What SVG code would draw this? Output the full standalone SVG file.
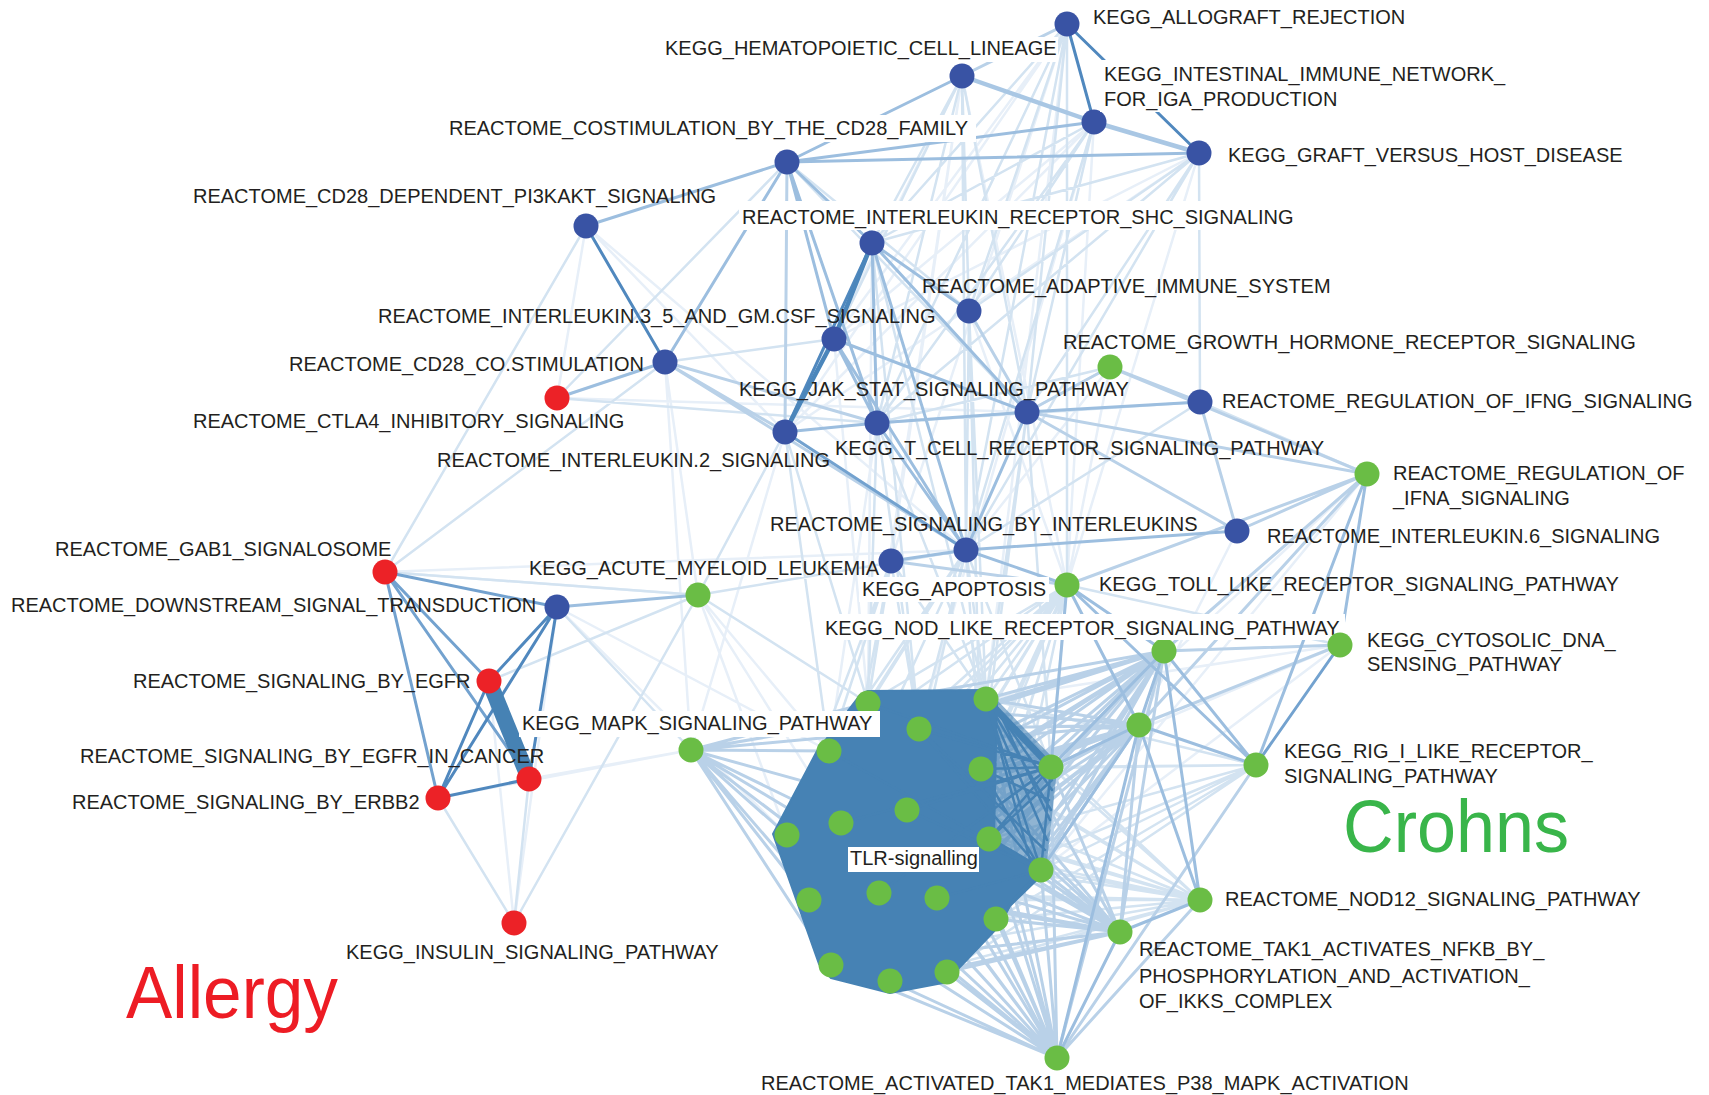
<svg xmlns="http://www.w3.org/2000/svg" width="1709" height="1095" viewBox="0 0 1709 1095">
<style>
.e{fill:none;stroke-linecap:round}
.e0{stroke:#e7eff8;stroke-width:2.5}
.e1{stroke:#d3e3f1;stroke-width:2.5}
.e2{stroke:#b9d1e8;stroke-width:3}
.e3{stroke:#9cbedf;stroke-width:3}
.e3w{stroke:#a9c7e4;stroke-width:4.5}
.e4{stroke:#73a2cf;stroke-width:3}
.e5{stroke:#5088be;stroke-width:3}
.e5w{stroke:#4b86bb;stroke-width:4.5}
.w{stroke:#4682b4;stroke-width:2.5}
.b{fill:#3953a4}
.r{fill:#ec2227}
.g{fill:#6abd45}
.l{font-family:"Liberation Sans",Arial,Helvetica,sans-serif;font-size:20px;fill:#231f20}
.bx{fill:#ffffff}
.big{font-family:"Liberation Sans",Arial,Helvetica,sans-serif;font-size:75px}
</style>
<rect width="1709" height="1095" fill="#ffffff"/>
<g id="connectors">
<path class="e e0" d="M1067 24L785 432M1067 24L891 561M1067 24L834 339M962 76L785 432M962 76L891 561M1094 122L785 432M1094 122L834 339M1199 153L834 339M1199 153L785 432M586 226L785 432M586 226L557 398M557 398L1027 412M514 923L489 681M514 923L557 607M529 779L691 750M698 595L787 835M698 595L829 751M698 595L841 823M385 572L966 550M557 607L829 751M557 607L787 835M785 432L691 750M665 362L691 750M1340 645L986 699M1340 645L1051 767M1340 645L1041 870M1367 474L1051 767M1367 474L1041 870M1237 531L1139 725M969 311L1067 585M1110 367L1067 585M1110 367L966 550M1199 153L1067 585M1094 122L1067 585M962 76L1067 585M586 226L966 550M665 362L698 595M438 798L691 750M385 572L698 595M962 76L868 703M1067 24L986 699M1094 122L919 729M877 423L829 751M834 339L868 703M872 243L868 703"/>
<path class="e e1" d="M1067 24L872 243M1067 24L969 311M1067 24L877 423M1067 24L1027 412M1067 24L966 550M1067 24L1067 585M962 76L872 243M962 76L969 311M962 76L877 423M962 76L1027 412M962 76L966 550M962 76L834 339M1094 122L872 243M1094 122L969 311M1094 122L877 423M1094 122L1027 412M1094 122L966 550M1199 153L872 243M1199 153L969 311M1199 153L877 423M1199 153L1027 412M1199 153L966 550M1199 153L1200 402M787 162L969 311M787 162L1027 412M586 226L385 572M557 398L787 162M557 398L877 423M385 572L698 595M385 572L665 362M834 339L665 362M969 311L966 550M1110 367L877 423M1110 367L1027 412M1200 402L966 550M1200 402L877 423M1200 402L1367 474M514 923L438 798M514 923L529 779M514 923L698 595M489 681L698 595M557 607L691 750M698 595L868 703M698 595L966 550M1340 645L1067 585M877 423L868 703M877 423L986 699M877 423L919 729M1027 412L986 699M1027 412L981 769M1027 412L1051 767M872 243L986 699M872 243L919 729M969 311L986 699M969 311L981 769M785 432L868 703M785 432L829 751M785 432L698 595"/>
<path class="e e1" d="M1200 900L868 703M1200 900L986 699M1200 900L919 729M1200 900L829 751M1200 900L981 769M1200 900L1051 767M1200 900L907 810M1200 900L841 823M1200 900L787 835M1200 900L989 839M1200 900L1041 870M1200 900L879 893M1200 900L937 898M1200 900L809 900M1200 900L996 919M1200 900L831 965M1200 900L890 981M1200 900L947 972"/>
<path class="e e1" d="M1067 585L868 703M1067 585L986 699M1067 585L919 729M1067 585L829 751M1067 585L981 769M1067 585L907 810M1067 585L841 823M1067 585L787 835M1067 585L989 839M1067 585L1041 870M1067 585L879 893M1067 585L937 898M1067 585L809 900M1067 585L996 919M1067 585L831 965M1067 585L890 981M1067 585L947 972"/>
<path class="e e1" d="M966 550L868 703M966 550L986 699M966 550L919 729M966 550L829 751M966 550L981 769M966 550L1051 767M966 550L907 810M966 550L841 823M966 550L787 835M891 561L868 703M891 561L986 699M891 561L919 729M891 561L829 751M891 561L841 823M891 561L787 835M1256 765L986 699M1256 765L981 769M1256 765L1051 767M1256 765L989 839M1256 765L1041 870M1256 765L996 919M1256 765L937 898M1256 765L947 972"/>
<path class="e e2" d="M691 750L868 703M691 750L919 729M691 750L829 751M691 750L841 823M691 750L787 835M691 750L809 900M691 750L831 965M691 750L890 981M691 750L907 810M691 750L879 893M691 750L986 699M691 750L937 898"/>
<path class="e e2" d="M1057 1058L868 703M1057 1058L986 699M1057 1058L919 729M1057 1058L829 751M1057 1058L981 769M1057 1058L1051 767M1057 1058L907 810M1057 1058L841 823M1057 1058L787 835M1057 1058L989 839M1057 1058L1041 870M1057 1058L879 893M1057 1058L937 898M1057 1058L809 900M1057 1058L996 919M1057 1058L831 965M1057 1058L890 981M1057 1058L947 972"/>
<path class="e e2" d="M1120 932L868 703M1120 932L986 699M1120 932L919 729M1120 932L829 751M1120 932L981 769M1120 932L1051 767M1120 932L907 810M1120 932L841 823M1120 932L787 835M1120 932L989 839M1120 932L1041 870M1120 932L879 893M1120 932L937 898M1120 932L809 900M1120 932L996 919M1120 932L831 965M1120 932L890 981M1120 932L947 972"/>
<path class="e e2" d="M1139 725L868 703M1139 725L986 699M1139 725L919 729M1139 725L829 751M1139 725L981 769M1139 725L1051 767M1139 725L907 810M1139 725L841 823M1139 725L787 835M1139 725L989 839M1139 725L1041 870M1139 725L879 893M1139 725L937 898M1139 725L809 900M1139 725L996 919M1139 725L831 965M1139 725L890 981M1139 725L947 972"/>
<path class="e e2" d="M1164 651L868 703M1164 651L986 699M1164 651L919 729M1164 651L829 751M1164 651L981 769M1164 651L1051 767M1164 651L907 810M1164 651L841 823M1164 651L787 835M1164 651L989 839M1164 651L1041 870M1164 651L879 893M1164 651L937 898M1164 651L809 900M1164 651L996 919M1164 651L831 965M1164 651L890 981M1164 651L947 972"/>
<path class="e e2" d="M1067 24L962 76M787 162L785 432M1027 412L1110 367M1027 412L1367 474M1027 412L1237 531M969 311L1027 412M1110 367L1200 402M1110 367L1367 474M1200 402L1237 531M1237 531L1367 474M1367 474L1164 651M1367 474L1067 585M1367 474L1139 725M1340 645L1164 651M1340 645L1139 725M1256 765L1057 1058M1164 651L1120 932M1164 651L1057 1058M1067 585L891 561M1139 725L1120 932M1200 900L1057 1058M665 362L877 423M665 362L785 432M665 362L966 550"/>
<path class="e e3" d="M962 76L787 162M787 162L1094 122M787 162L1199 153M787 162L586 226M787 162L665 362M787 162L834 339M787 162L877 423M787 162L872 243M557 398L665 362M557 607L698 595M834 339L877 423M834 339L1027 412M834 339L966 550M872 243L969 311M872 243L877 423M872 243L1027 412M872 243L966 550M785 432L877 423M877 423L1027 412M877 423L966 550M1027 412L966 550M1027 412L1200 402M966 550L891 561M966 550L1237 531M966 550L1067 585M1367 474L1340 645M1367 474L1256 765M1256 765L1164 651M1256 765L1139 725M1256 765L1067 585M1164 651L1139 725M1164 651L1067 585M1164 651L1200 900M1067 585L1139 725M1067 585L1051 767M1139 725L1200 900M1200 900L1120 932M1120 932L1057 1058M1057 1058L1139 725M1139 725L1051 767M1139 725L1041 870M1164 651L1051 767"/>
<path class="e e3w" d="M962 76L1094 122M1094 122L1199 153"/>
<path class="e e4" d="M385 572L557 607M385 572L489 681M385 572L529 779M385 572L438 798M1340 645L1256 765M785 432L966 550"/>
<path class="e e5" d="M1067 24L1094 122M1067 24L1199 153M586 226L665 362M557 607L489 681M557 607L529 779M557 607L438 798M489 681L438 798M438 798L529 779M872 243L785 432"/>
<path class="e e5w" d="M834 339L872 243M834 339L785 432"/>
<path d="M489 681L529 779" fill="none" stroke="#4682b4" stroke-width="16"/>
<polygon points="986,690 997,700 1053,758 1057,770 1046,871 1030,861 994,840" fill="#4682b4" fill-opacity="0.6"/>
<polygon points="860,695 868,691 986,690 997,700 994,840 1030,861 1046,871 1010,906 1000,925 960,967 948,982 890,993 831,978 819,964 773,834 817,751" fill="#4682b4" stroke="#4682b4" stroke-width="2" stroke-linejoin="round"/>
<path class="e w" d="M986 699L1041 870M981 769L1051 767M981 769L1041 870M989 839L1051 767M989 839L1041 870M919 729L1051 767M919 729L1041 870M907 810L1051 767M907 810L1041 870M868 703L1051 767M841 823L1051 767M829 751L1041 870M879 893L1051 767M937 898L1041 870M996 919L1041 870M986 699L1051 810M1051 767L1041 870M986 699L1047 840M990 700L1052 790M986 699L1030 860M981 769L1049 800M989 839L1052 780M919 729L1045 850M996 705L1050 820"/>
<path d="M986 699L1051 767" fill="none" stroke="#4682b4" stroke-width="7"/>
</g>
<g id="cluster-nodes">
<circle class="g" cx="868" cy="703" r="12.5"/>
<circle class="g" cx="986" cy="699" r="12.5"/>
<circle class="g" cx="919" cy="729" r="12.5"/>
<circle class="g" cx="829" cy="751" r="12.5"/>
<circle class="g" cx="981" cy="769" r="12.5"/>
<circle class="g" cx="1051" cy="767" r="12.5"/>
<circle class="g" cx="907" cy="810" r="12.5"/>
<circle class="g" cx="841" cy="823" r="12.5"/>
<circle class="g" cx="787" cy="835" r="12.5"/>
<circle class="g" cx="989" cy="839" r="12.5"/>
<circle class="g" cx="1041" cy="870" r="12.5"/>
<circle class="g" cx="879" cy="893" r="12.5"/>
<circle class="g" cx="937" cy="898" r="12.5"/>
<circle class="g" cx="809" cy="900" r="12.5"/>
<circle class="g" cx="996" cy="919" r="12.5"/>
<circle class="g" cx="831" cy="965" r="12.5"/>
<circle class="g" cx="890" cy="981" r="12.5"/>
<circle class="g" cx="947" cy="972" r="12.5"/>
<circle class="g" cx="1139" cy="725" r="12.5"/>
</g>
<g id="n-allograft"><circle class="b" cx="1067" cy="24" r="12.5"/><text class="l" x="1093" y="24">KEGG_ALLOGRAFT_REJECTION</text></g>
<g id="n-hematopoietic"><circle class="b" cx="962" cy="76" r="12.5"/><rect class="bx" x="662" y="37" width="396" height="25"/><text class="l" x="665" y="55">KEGG_HEMATOPOIETIC_CELL_LINEAGE</text></g>
<g id="n-intestinal"><circle class="b" cx="1094" cy="122" r="12.5"/><rect class="bx" x="1100" y="60" width="408" height="52"/><text class="l" x="1104" y="81">KEGG_INTESTINAL_IMMUNE_NETWORK_</text><text class="l" x="1104" y="106">FOR_IGA_PRODUCTION</text></g>
<g id="n-gvhd"><circle class="b" cx="1199" cy="153" r="12.5"/><text class="l" x="1228" y="162">KEGG_GRAFT_VERSUS_HOST_DISEASE</text></g>
<g id="n-costim"><circle class="b" cx="787" cy="162" r="12.5"/><rect class="bx" x="446" y="115" width="530" height="27"/><text class="l" x="449" y="135">REACTOME_COSTIMULATION_BY_THE_CD28_FAMILY</text></g>
<g id="n-pi3k"><circle class="b" cx="586" cy="226" r="12.5"/><text class="l" x="193" y="203">REACTOME_CD28_DEPENDENT_PI3KAKT_SIGNALING</text></g>
<g id="n-shc"><circle class="b" cx="872" cy="243" r="12.5"/><rect class="bx" x="739" y="201" width="556" height="29"/><text class="l" x="742" y="224">REACTOME_INTERLEUKIN_RECEPTOR_SHC_SIGNALING</text></g>
<g id="n-adaptive"><circle class="b" cx="969" cy="311" r="12.5"/><text class="l" x="922" y="293">REACTOME_ADAPTIVE_IMMUNE_SYSTEM</text></g>
<g id="n-il35"><circle class="b" cx="834" cy="339" r="12.5"/><text class="l" x="378" y="323">REACTOME_INTERLEUKIN.3_5_AND_GM.CSF_SIGNALING</text></g>
<g id="n-cd28co"><circle class="b" cx="665" cy="362" r="12.5"/><text class="l" x="289" y="371">REACTOME_CD28_CO.STIMULATION</text></g>
<g id="n-ctla4"><circle class="r" cx="557" cy="398" r="12.5"/><text class="l" x="193" y="428">REACTOME_CTLA4_INHIBITORY_SIGNALING</text></g>
<g id="n-il2"><circle class="b" cx="785" cy="432" r="12.5"/><text class="l" x="437" y="467">REACTOME_INTERLEUKIN.2_SIGNALING</text></g>
<g id="n-jakstat"><circle class="b" cx="1027" cy="412" r="12.5"/><text class="l" x="739" y="396">KEGG_JAK_STAT_SIGNALING_PATHWAY</text></g>
<g id="n-tcell"><circle class="b" cx="877" cy="423" r="12.5"/><text class="l" x="835" y="455">KEGG_T_CELL_RECEPTOR_SIGNALING_PATHWAY</text></g>
<g id="n-growth"><circle class="g" cx="1110" cy="367" r="12.5"/><text class="l" x="1063" y="349">REACTOME_GROWTH_HORMONE_RECEPTOR_SIGNALING</text></g>
<g id="n-ifng"><circle class="b" cx="1200" cy="402" r="12.5"/><text class="l" x="1222" y="408">REACTOME_REGULATION_OF_IFNG_SIGNALING</text></g>
<g id="n-ifna"><circle class="g" cx="1367" cy="474" r="12.5"/><text class="l" x="1393" y="480">REACTOME_REGULATION_OF</text><text class="l" x="1393" y="505">_IFNA_SIGNALING</text></g>
<g id="n-sbi"><circle class="b" cx="966" cy="550" r="12.5"/><text class="l" x="770" y="531">REACTOME_SIGNALING_BY_INTERLEUKINS</text></g>
<g id="n-il6"><circle class="b" cx="1237" cy="531" r="12.5"/><text class="l" x="1267" y="543">REACTOME_INTERLEUKIN.6_SIGNALING</text></g>
<g id="n-apoptosis"><circle class="b" cx="891" cy="561" r="12.5"/><rect class="bx" x="859" y="577" width="190" height="25"/><text class="l" x="862" y="596">KEGG_APOPTOSIS</text></g>
<g id="n-aml"><circle class="g" cx="698" cy="595" r="12.5"/><text class="l" x="529" y="575">KEGG_ACUTE_MYELOID_LEUKEMIA</text></g>
<g id="n-toll"><circle class="g" cx="1067" cy="585" r="12.5"/><text class="l" x="1099" y="591">KEGG_TOLL_LIKE_RECEPTOR_SIGNALING_PATHWAY</text></g>
<g id="n-gab1"><circle class="r" cx="385" cy="572" r="12.5"/><text class="l" x="55" y="556">REACTOME_GAB1_SIGNALOSOME</text></g>
<g id="n-downstream"><circle class="b" cx="557" cy="607" r="12.5"/><text class="l" x="11" y="612">REACTOME_DOWNSTREAM_SIGNAL_TRANSDUCTION</text></g>
<g id="n-nodlike"><circle class="g" cx="1164" cy="651" r="12.5"/><rect class="bx" x="822" y="614" width="523" height="26"/><text class="l" x="825" y="635">KEGG_NOD_LIKE_RECEPTOR_SIGNALING_PATHWAY</text></g>
<g id="n-cytosolic"><circle class="g" cx="1340" cy="645" r="12.5"/><text class="l" x="1367" y="647">KEGG_CYTOSOLIC_DNA_</text><text class="l" x="1367" y="671">SENSING_PATHWAY</text></g>
<g id="n-egfr"><circle class="r" cx="489" cy="681" r="12.5"/><text class="l" x="133" y="688">REACTOME_SIGNALING_BY_EGFR</text></g>
<g id="n-mapk"><circle class="g" cx="691" cy="750" r="12.5"/><rect class="bx" x="519" y="711" width="361" height="26"/><text class="l" x="522" y="730">KEGG_MAPK_SIGNALING_PATHWAY</text></g>
<g id="n-rig"><circle class="g" cx="1256" cy="765" r="12.5"/><text class="l" x="1284" y="758">KEGG_RIG_I_LIKE_RECEPTOR_</text><text class="l" x="1284" y="783">SIGNALING_PATHWAY</text></g>
<g id="n-egfrcancer"><circle class="r" cx="529" cy="779" r="12.5"/><text class="l" x="80" y="763">REACTOME_SIGNALING_BY_EGFR_IN_CANCER</text></g>
<g id="n-erbb2"><circle class="r" cx="438" cy="798" r="12.5"/><text class="l" x="72" y="809">REACTOME_SIGNALING_BY_ERBB2</text></g>
<g id="n-nod12"><circle class="g" cx="1200" cy="900" r="12.5"/><text class="l" x="1225" y="906">REACTOME_NOD12_SIGNALING_PATHWAY</text></g>
<g id="n-tak1nfkb"><circle class="g" cx="1120" cy="932" r="12.5"/><text class="l" x="1139" y="956">REACTOME_TAK1_ACTIVATES_NFKB_BY_</text><text class="l" x="1139" y="983">PHOSPHORYLATION_AND_ACTIVATION_</text><text class="l" x="1139" y="1008">OF_IKKS_COMPLEX</text></g>
<g id="n-insulin"><circle class="r" cx="514" cy="923" r="12.5"/><text class="l" x="346" y="959">KEGG_INSULIN_SIGNALING_PATHWAY</text></g>
<g id="n-p38"><circle class="g" cx="1057" cy="1058" r="12.5"/><text class="l" x="761" y="1090">REACTOME_ACTIVATED_TAK1_MEDIATES_P38_MAPK_ACTIVATION</text></g>
<g id="tlr-label"><rect class="bx" x="848" y="847" width="131" height="25"/><text class="l" x="850" y="865">TLR-signalling</text></g>
<g id="group-labels">
<text class="big" x="126" y="1018" fill="#ed1c24" textLength="212" lengthAdjust="spacingAndGlyphs">Allergy</text>
<text class="big" x="1343" y="852" fill="#39b54a" textLength="226" lengthAdjust="spacingAndGlyphs">Crohns</text>
</g>
</svg>
